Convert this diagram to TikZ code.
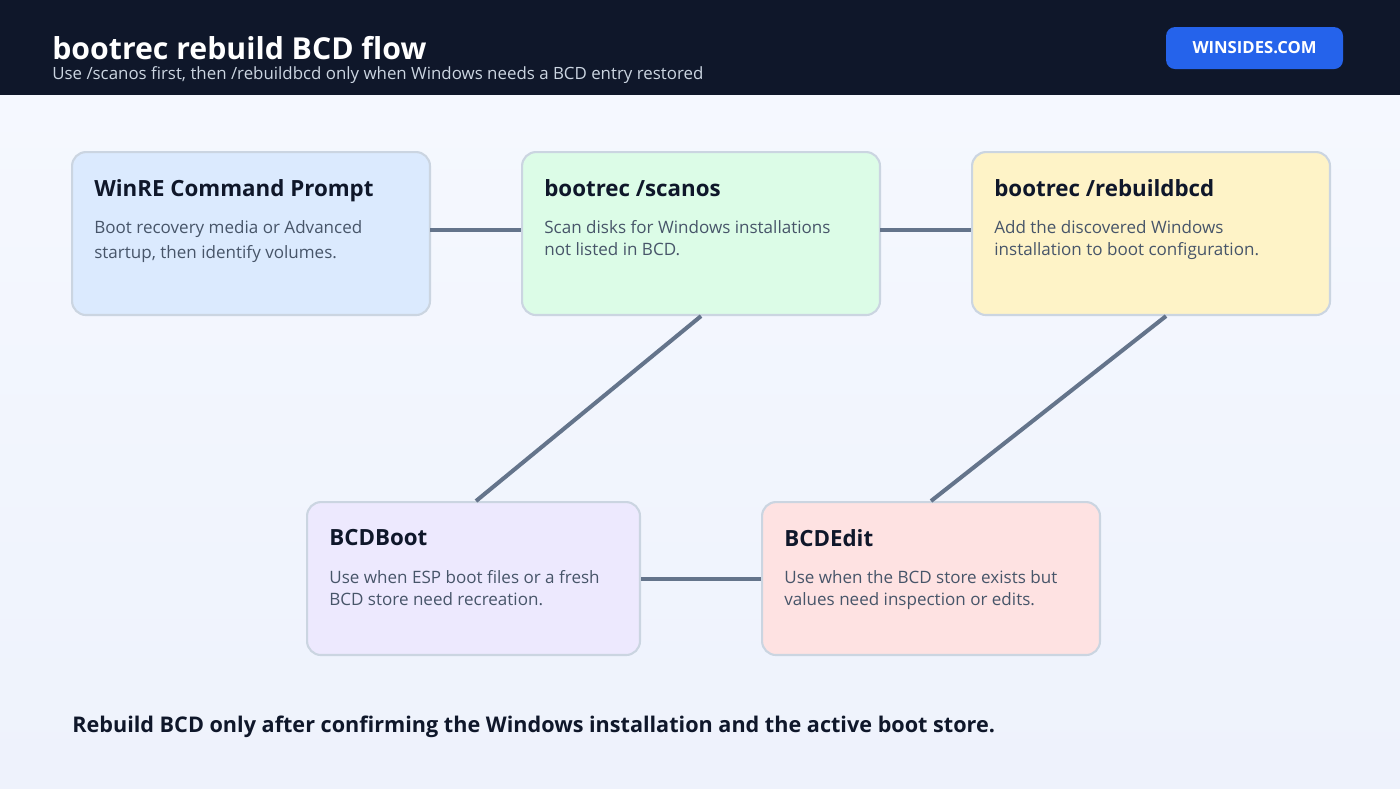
\documentclass[tikz,border=0pt]{standalone}
\usepackage{fontspec}
\setmainfont{Open Sans}
\usetikzlibrary{positioning}
\definecolor{headbg}{HTML}{0F172A}
\definecolor{subtxt}{HTML}{CBD5E1}
\definecolor{badge}{HTML}{2563EB}
\definecolor{edge}{HTML}{CBD5E1}
\definecolor{wire}{HTML}{64748B}
\definecolor{titletxt}{HTML}{0F172A}
\definecolor{bodytxt}{HTML}{475569}
\definecolor{bluebg}{HTML}{DBEAFE}
\definecolor{greenbg}{HTML}{DCFCE7}
\definecolor{yellowbg}{HTML}{FEF3C7}
\definecolor{purplebg}{HTML}{EDE9FE}
\definecolor{redbg}{HTML}{FEE2E2}
\definecolor{pagetop}{HTML}{F6F9FF}
\definecolor{pagebot}{HTML}{EEF2FC}

\begin{document}
\begin{tikzpicture}[x=0.02cm, y=-0.02cm,
    box/.style={rectangle, rounded corners=0.28cm, draw=edge, line width=1.2pt, anchor=north west, inner sep=0pt},
    head/.style={anchor=north west, inner sep=0pt, font=\fontsize{12.7}{14}\selectfont\bfseries, text=titletxt},
    body/.style={anchor=north west, inner sep=0pt, align=left, font=\fontsize{9.7}{12.8}\selectfont, text=bodytxt},
    link/.style={draw=wire, line width=2.3pt}
]
\useasboundingbox (0,0) rectangle (1400,788);
\shade[top color=pagetop, bottom color=pagebot] (0,0) rectangle (1400,788);
\fill[headbg] (0,0) rectangle (1400,95);
\node[anchor=west, inner sep=0pt, text=white, font=\fontsize{17.2}{18}\selectfont\bfseries] (title) at (52,48) {bootrec rebuild BCD flow};
\node[anchor=west, inner sep=0pt, text=subtxt, font=\fontsize{9.6}{12}\selectfont] (subtitle) at (52,75) {Use /scanos first, then /rebuildbcd only when Windows needs a BCD entry restored};
\node[box, draw=none, fill=badge, rounded corners=0.18cm, minimum width=3.54cm, minimum height=0.84cm, text=white, font=\fontsize{9.5}{11}\selectfont\bfseries] (badge) at (1165,26) {\raisebox{-1.5pt}{WINSIDES.COM}};

% boxes
\node[box, fill=bluebg, minimum width=7.16cm, minimum height=3.26cm] (winre) at (71,151) {};
\node[box, fill=greenbg, minimum width=7.16cm, minimum height=3.26cm] (scan) at (521,151) {};
\node[box, fill=yellowbg, minimum width=7.16cm, minimum height=3.26cm] (rebuild) at (971,151) {};
\node[box, fill=purplebg, minimum width=6.66cm, minimum height=3.06cm] (boot) at (306,501) {};
\node[box, fill=redbg, minimum width=6.76cm, minimum height=3.06cm] (edit) at (761,501) {};

% texts
\node[head] (winreT) at (94,179) {WinRE Command Prompt};
\node[body] (winreB) at (94,220) {Boot recovery media or Advanced\\[1.5pt]startup, then identify volumes.};
\node[head] (scanT) at (544,179) {bootrec /scanos};
\node[body] (scanB) at (544,220) {Scan disks for Windows installations\\not listed in BCD.};
\node[head] (rebuildT) at (994,179) {bootrec /rebuildbcd};
\node[body] (rebuildB) at (994,220) {Add the discovered Windows\\installation to boot configuration.};
\node[head] (bootT) at (329,529) {BCDBoot};
\node[body] (bootB) at (329,570) {Use when ESP boot files or a fresh\\BCD store need recreation.};
\node[head] (editT) at (784,529) {BCDEdit};
\node[body] (editB) at (784,570) {Use when the BCD store exists but\\values need inspection or edits.};

% connectors
\coordinate (winreR) at (430,230);
\coordinate (scanL) at (521,230);
\coordinate (scanR) at (880,230);
\coordinate (rebuildL) at (971,230);
\draw[link] (winreR) -- (scanL);
\draw[link] (scanR) -- (rebuildL);
\draw[link] (scan.south) -- ([xshift=0.05cm]boot.north);
\draw[link] ([xshift=0.3cm]rebuild.south) -- (edit.north);
\draw[link] (boot.east) -- (edit.west);

\node[anchor=west, inner sep=0pt, text=titletxt, font=\fontsize{12.3}{14}\selectfont\bfseries] (footer) at (72,727) {Rebuild BCD only after confirming the Windows installation and the active boot store.};
\end{tikzpicture}
\end{document}
